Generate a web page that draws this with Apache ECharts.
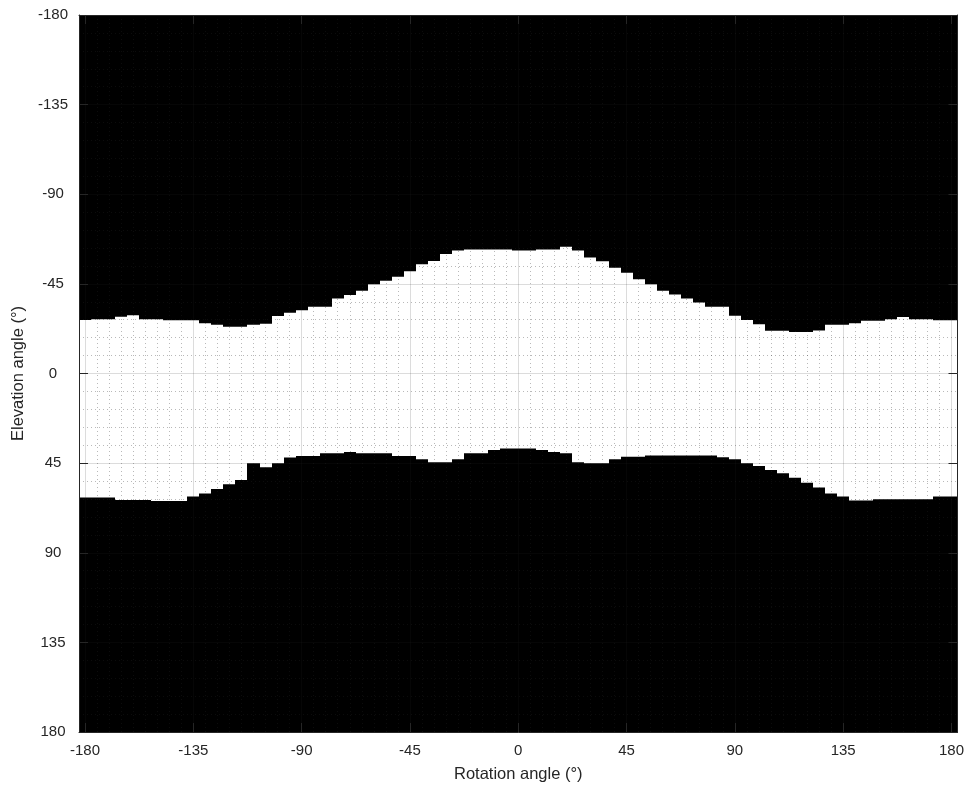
<!DOCTYPE html>
<html><head><meta charset="utf-8">
<script src="https://cdn.jsdelivr.net/npm/echarts@6/dist/echarts.min.js"></script>
<style>html,body{margin:0;padding:0;background:#fff}#c{width:967px;height:790px}</style>
</head><body><div id="c"></div>
<script>
// Rotation angle of each image column (deg)
const rotation = [-180,-175,-170,-165,-160,-155,-150,-145,-140,-135,-130,-125,-120,-115,-110,-105,-100,-95,-90,-85,-80,-75,-70,-65,-60,-55,-50,-45,-40,-35,-30,-25,-20,-15,-10,-5,0,5,10,15,20,25,30,35,40,45,50,55,60,65,70,75,80,85,90,95,100,105,110,115,120,125,130,135,140,145,150,155,160,165,170,175,180];
// Upper edge of the white (visible) region, elevation angle (deg)
const topEdge = [-26.9,-27.2,-27.2,-28.5,-29.2,-27.2,-27.2,-26.7,-26.7,-26.7,-25.2,-24.5,-23.5,-23.5,-24.5,-25.0,-28.9,-30.5,-31.7,-33.5,-33.5,-37.6,-39.4,-41.6,-44.8,-46.6,-48.6,-51.3,-54.8,-56.5,-60.0,-61.7,-62.3,-62.3,-62.3,-62.3,-61.8,-61.7,-62.3,-62.3,-63.7,-61.7,-58.3,-56.3,-53.1,-50.6,-47.3,-44.8,-41.6,-39.7,-37.6,-35.7,-33.5,-33.5,-29.0,-26.9,-24.7,-21.5,-21.5,-20.8,-20.8,-21.6,-24.5,-24.5,-25.2,-26.5,-26.5,-27.2,-28.4,-27.2,-27.2,-26.7,-26.7];
// Lower edge of the white (visible) region, elevation angle (deg)
const bottomEdge = [62.2,62.2,62.2,63.5,63.5,63.5,64.0,64.0,64.0,61.8,60.2,58.0,55.6,53.5,45.1,47.1,45.1,42.2,41.4,41.4,40.1,40.1,39.4,40.1,40.1,40.1,41.4,41.4,43.1,44.6,44.6,43.1,40.1,40.1,38.4,37.6,37.6,37.6,38.4,39.4,40.1,44.6,45.1,45.1,43.1,41.8,41.8,41.2,41.2,41.2,41.2,41.2,41.2,42.1,43.1,45.1,46.4,48.4,50.1,52.3,54.8,57.3,60.2,61.8,63.8,63.8,63.2,63.2,63.2,63.2,63.2,61.8,61.8];
// Tick labels
const xTicks = [-180,-135,-90,-45,0,45,90,135,180];
const yTicks = [-180,-135,-90,-45,0,45,90,135,180];
const xLabel = 'Rotation angle (°)';
const yLabel = 'Elevation angle (°)';

const minorX = rotation.filter(v => v % 45 !== 0);
const axisColor = '#262626';
const font = 'Liberation Sans, Arial, Helvetica, sans-serif';
const majorGrid = {show: true, lineStyle: {color: 'rgba(38,38,38,0.16)', width: 1, type: 'solid'}};
const minorGrid = {show: true, lineStyle: {color: 'rgba(38,38,38,0.32)', width: 1, type: [1, 3]}};

const chart = echarts.init(document.getElementById('c'), null, {renderer: 'canvas'});
chart.setOption({
  animation: false,
  backgroundColor: '#ffffff',
  grid: {left: 79, top: 15, right: 9, bottom: 58, show: true, backgroundColor: '#000000', borderWidth: 0},
  xAxis: [
    {
      type: 'value', min: -182.5, max: 182.5, position: 'bottom', z: 5,
      name: xLabel, nameLocation: 'middle', nameGap: 34,
      nameTextStyle: {fontSize: 16.5, color: axisColor, fontFamily: font},
      axisLine: {show: true, onZero: false, lineStyle: {color: axisColor, width: 1}},
      axisTick: {show: true, inside: true, length: 9, customValues: xTicks, lineStyle: {color: axisColor}},
      axisLabel: {show: true, customValues: xTicks, color: axisColor, fontSize: 15, fontFamily: font, margin: 11},
      splitLine: majorGrid
    },
    {
      type: 'value', min: -182.5, max: 182.5, position: 'bottom', z: 4,
      axisLine: {show: false}, axisLabel: {show: false},
      axisTick: {show: false, customValues: minorX},
      splitLine: minorGrid
    },
    {
      type: 'value', min: -182.5, max: 182.5, position: 'top', z: 5,
      axisLine: {show: true, onZero: false, lineStyle: {color: axisColor, width: 1}},
      axisTick: {show: true, inside: true, length: 9, customValues: xTicks, lineStyle: {color: axisColor}},
      axisLabel: {show: false}, splitLine: {show: false}
    }
  ],
  yAxis: [
    {
      type: 'value', inverse: true, min: -180, max: 180, interval: 45, position: 'left', z: 5,
      name: yLabel, nameLocation: 'middle', nameGap: 47,
      nameTextStyle: {fontSize: 16.5, color: axisColor, fontFamily: font},
      axisLine: {show: true, onZero: false, lineStyle: {color: axisColor, width: 1}},
      axisTick: {show: true, inside: true, length: 9, lineStyle: {color: axisColor}},
      axisLabel: {show: true, color: axisColor, fontSize: 15, fontFamily: font, margin: 26, align: 'center',
                  formatter: (v) => String(v)},
      splitLine: majorGrid,
      minorTick: {show: false, splitNumber: 5},
      minorSplitLine: minorGrid
    },
    {
      type: 'value', inverse: true, min: -180, max: 180, interval: 45, position: 'right', z: 5,
      axisLine: {show: true, onZero: false, lineStyle: {color: axisColor, width: 1}},
      axisTick: {show: true, inside: true, length: 9, lineStyle: {color: axisColor}},
      axisLabel: {show: false}, splitLine: {show: false}
    }
  ],
  series: [{
    type: 'custom',
    xAxisIndex: 0, yAxisIndex: 0,
    z: 2, silent: true, clip: true,
    data: rotation.map((r, i) => [r, topEdge[i], bottomEdge[i]]),
    encode: {x: 0, y: [1, 2]},
    renderItem: (params, api) => {
      const x = api.value(0);
      const a = api.coord([x - 2.5, api.value(1)]);
      const b = api.coord([x + 2.5, api.value(2)]);
      const x0 = Math.round(a[0]), x1 = Math.round(b[0]);
      return {type: 'rect', shape: {x: x0, y: a[1], width: x1 - x0, height: b[1] - a[1]}, style: {fill: '#ffffff'}};
    }
  }]
});
</script>
</body></html>
